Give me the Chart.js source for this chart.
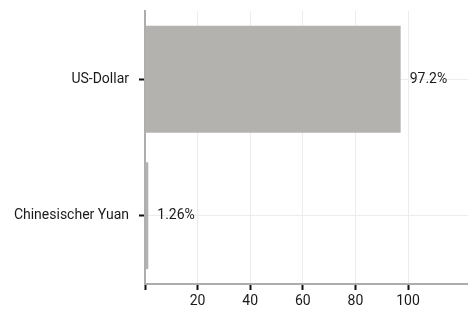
<!DOCTYPE html>
<html>
<head>
<meta charset="utf-8">
<script src="https://cdn.jsdelivr.net/npm/chart.js@4/dist/chart.umd.min.js"></script>
<style>
  html, body { margin: 0; padding: 0; background: #fff; }
  #wrap { width: 468px; height: 311px; }
</style>
</head>
<body>
<div id="wrap"><canvas id="c"></canvas></div>
<script>
// data
const categories = ['US-Dollar', 'Chinesischer Yuan'];
const shares = [97.2, 1.26];
const valueLabels = ['97.2%', '1.26%'];
const xTicksShown = [20, 40, 60, 80, 100];

const axisGray = '#adadad';
const gridGray = '#ececec';
const textCol = '#1a1a1a';
const FONT = 'Roboto, "Liberation Sans", sans-serif';

// value text to the right of each bar
const barLabels = {
  id: 'barLabels',
  afterDatasetsDraw(chart) {
    const ctx = chart.ctx;
    const meta = chart.getDatasetMeta(0);
    ctx.save();
    ctx.font = '14px ' + FONT;
    ctx.fillStyle = textCol;
    ctx.textAlign = 'left';
    ctx.textBaseline = 'middle';
    meta.data.forEach((bar, i) => {
      ctx.fillText(valueLabels[i], bar.x + 9, bar.y);
    });
    ctx.restore();
  }
};

new Chart(document.getElementById('c'), {
  type: 'bar',
  data: {
    labels: categories,
    datasets: [{
      data: shares,
      backgroundColor: '#b3b2ae',
      borderWidth: 0,
      categoryPercentage: 0.9,
      barPercentage: 0.87
    }]
  },
  options: {
    indexAxis: 'y',
    responsive: true,
    maintainAspectRatio: false,
    animation: false,
    layout: { padding: { top: 11, right: 0, bottom: 0, left: 0 } },
    plugins: {
      legend: { display: false },
      tooltip: { enabled: false }
    },
    scales: {
      x: {
        type: 'linear',
        min: 0,
        max: 122.8,
        ticks: {
          stepSize: 20,
          color: textCol,
          font: { family: FONT, size: 14 },
          padding: 3,
          maxRotation: 0,
          callback: v => xTicksShown.includes(v) ? String(v) : ''
        },
        grid: {
          color: c => (c.tick && c.tick.value > 0 && c.tick.value <= 120) ? gridGray : 'rgba(0,0,0,0)',
          tickColor: c => (c.tick && c.tick.value <= 100) ? '#111' : 'rgba(0,0,0,0)',
          tickLength: 6,
          tickWidth: 2,
          lineWidth: 1
        },
        border: { color: axisGray, width: 2 },
        afterFit: s => { s.height = 27; s.paddingLeft = 0; s.paddingRight = 0; }
      },
      y: {
        type: 'category',
        offset: true,
        ticks: {
          color: textCol,
          font: { family: FONT, size: 14 },
          padding: 10
        },
        grid: {
          offset: false,
          color: gridGray,
          tickColor: '#111',
          tickLength: 6,
          tickWidth: 2,
          lineWidth: 1
        },
        border: { color: axisGray, width: 2 },
        afterFit: s => { s.width = 145; s.paddingTop = 0; s.paddingBottom = 0; }
      }
    }
  },
  plugins: [barLabels]
});
</script>
</body>
</html>
